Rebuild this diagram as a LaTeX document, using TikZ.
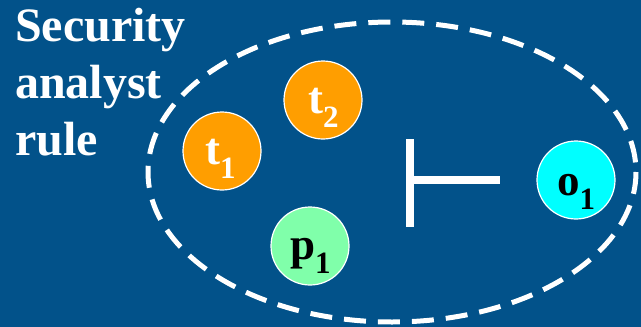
\documentclass[tikz,border=0pt]{standalone}
\usepackage{fontspec}
\setmainfont{Liberation Serif}
\definecolor{bg}{RGB}{2,82,138}
\definecolor{orangec}{RGB}{255,158,0}
\definecolor{greenc}{RGB}{128,255,170}
\definecolor{cyanc}{RGB}{0,255,255}
\newcommand{\lbl}[2]{{\fontsize{45}{45}\selectfont\bfseries #1\raisebox{-14pt}{\fontsize{31}{31}\selectfont #2}}}
\begin{document}
\begin{tikzpicture}[x=1pt,y=-1pt,
  ball/.style={circle,draw=white,line width=1.2pt,minimum size=78pt,inner sep=0pt},
  title/.style={text=white,font=\fontsize{48}{57}\selectfont\bfseries,align=left,anchor=north west,inner sep=0pt}]
\fill[bg] (0,0) rectangle (641,327);
\useasboundingbox (0,0) rectangle (641,327);
\draw[white,line width=5pt,dash pattern=on 22pt off 12pt] (392,172) ellipse [x radius=244, y radius=150];
\node[title] (ttl) at (15,8) {Security\\analyst\\rule};
\node[ball,fill=orangec,text=white] (t1) at (222,151) {};
\node[ball,fill=orangec,text=white] (t2) at (323,100) {};
\node[ball,fill=greenc] (p1) at (310,246) {};
\node[ball,fill=cyanc] (o1) at (576,180) {};
\node[anchor=base west,inner sep=0pt,text=white] (lt1) at (205,164) {\lbl{t}{1}};
\node[anchor=base west,inner sep=0pt,text=white] (lt2) at (308,113) {\lbl{t}{2}};
\node[anchor=base west,inner sep=0pt,text=black] (lp1) at (290,259) {\lbl{p}{1}};
\node[anchor=base west,inner sep=0pt,text=black] (lo1) at (557,195) {\lbl{o}{1}};
\coordinate (vt) at (410,139);
\coordinate (vb) at (410,227);
\coordinate (hm) at (410,180);
\coordinate (hr) at (500,180);
\draw[white,line width=8pt] (vt) -- (vb);
\draw[white,line width=8pt] (hm) -- (hr);
\end{tikzpicture}
\end{document}
